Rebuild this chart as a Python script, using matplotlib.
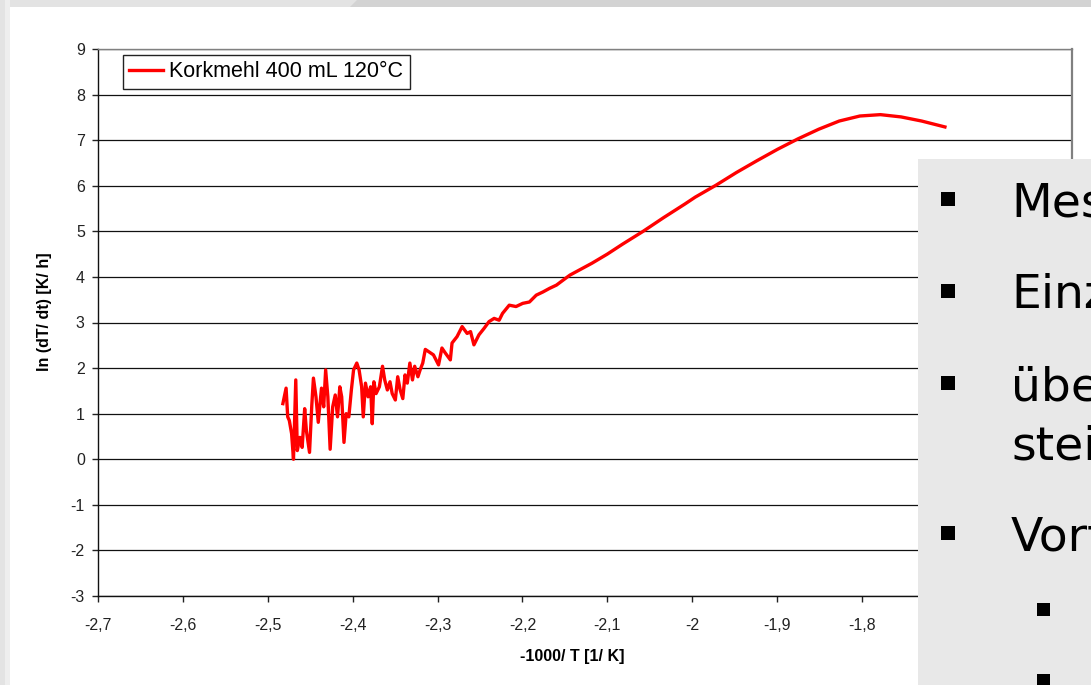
import matplotlib
matplotlib.use("Agg")
import matplotlib.pyplot as plt
import matplotlib.patches as mpatches
from matplotlib.ticker import FuncFormatter

W, H = 1091, 685

# measured curve: -1000/T [1/K] vs ln(dT/dt) [K/h]
x_noisy = [-2.4822, -2.4784, -2.4765, -2.4746, -2.4719, -2.4697, -2.4670, -2.4652,
           -2.4622, -2.4595, -2.4565, -2.4545, -2.4508, -2.4481, -2.4462, -2.4432,
           -2.4405, -2.4367, -2.4341, -2.4318, -2.4292, -2.4265, -2.4235, -2.4205,
           -2.4178, -2.4151, -2.4129, -2.4102, -2.4076, -2.4045, -2.4015, -2.3989,
           -2.3951, -2.3924, -2.3894, -2.3875, -2.3849, -2.3818, -2.3788, -2.3769,
           -2.3750, -2.3724, -2.3685, -2.3648, -2.3622, -2.3591, -2.3560, -2.3534,
           -2.3497, -2.3469, -2.3440, -2.3409, -2.3383, -2.3356, -2.3326, -2.3295,
           -2.3269, -2.3231, -2.3205, -2.3174, -2.3144]
y_noisy = [1.22, 1.56, 0.93, 0.85, 0.56, 0.00, 1.74, 0.19,
           0.48, 0.26, 1.11, 0.63, 0.15, 1.19, 1.78, 1.37,
           0.81, 1.56, 1.15, 1.96, 1.37, 0.22, 1.15, 1.41,
           0.93, 1.59, 1.37, 0.37, 1.00, 0.93, 1.52, 1.96,
           2.11, 1.96, 1.59, 0.93, 1.67, 1.37, 1.59, 0.78,
           1.70, 1.44, 1.59, 2.04, 1.74, 1.52, 1.70, 1.44,
           1.30, 1.81, 1.52, 1.33, 1.85, 1.67, 2.11, 1.74,
           2.04, 1.81, 1.96, 2.11, 2.41]

x_mid = [-2.3048, -2.2988, -2.2948, -2.2908, -2.2849, -2.2829, -2.2770, -2.2710,
         -2.2651, -2.2611, -2.2571, -2.2512, -2.2452, -2.2393, -2.2333, -2.2274,
         -2.2234, -2.2155, -2.2075, -2.1996, -2.1917, -2.1837, -2.1758, -2.1679,
         -2.1599, -2.1520, -2.1440, -2.1181, -2.1000, -2.0819, -2.0578, -2.0337,
         -2.0085]
y_mid = [2.29, 2.07, 2.44, 2.33, 2.18, 2.55, 2.69, 2.91,
         2.76, 2.80, 2.51, 2.73, 2.87, 3.02, 3.09, 3.05,
         3.20, 3.38, 3.35, 3.42, 3.45, 3.60, 3.67, 3.75,
         3.82, 3.93, 4.04, 4.30, 4.50, 4.72, 5.00, 5.30,
         5.60]

x_top = [-1.9964, -1.9721, -1.9479, -1.9236, -1.8994, -1.8752, -1.8509,
         -1.8267, -1.8024, -1.7782, -1.7539, -1.7297, -1.7022]
y_top = [5.75, 6.01, 6.29, 6.55, 6.80, 7.03, 7.24,
         7.42, 7.53, 7.56, 7.51, 7.42, 7.29]

series_label = "Korkmehl 400 mL 120°C"
x_ticks = [-2.7, -2.6, -2.5, -2.4, -2.3, -2.2, -2.1, -2.0, -1.9, -1.8]
y_ticks = list(range(-3, 10))

# slide text visible on the overlapping grey box
bullets = [("Mes", 199), ("Einz", 291), ("übe", 383), ("Vort", 533)]
extra_lines = [("steil", 442)]
sub_bullets = [609, 680]

xs = x_noisy + x_mid + x_top
ys = y_noisy + y_mid + y_top

plt.rcParams["font.family"] = ["Liberation Sans", "DejaVu Sans"]

fig = plt.figure(figsize=(W / 100, H / 100), dpi=100, facecolor="#e3e3e3")

# slide background: white card with grey frame strips
fig.patches.append(mpatches.Rectangle((5 / W, 0), 5 / W, 1, transform=fig.transFigure,
                                      facecolor="#eeeeee", edgecolor="none", zorder=-3))
fig.patches.append(mpatches.Rectangle((10 / W, 0), 1, 1 - 7 / H, transform=fig.transFigure,
                                      facecolor="white", edgecolor="none", zorder=-2))
fig.patches.append(mpatches.Polygon([(350 / W, 1 - 7 / H), (357 / W, 1), (1, 1), (1, 1 - 7 / H)],
                                    closed=True, transform=fig.transFigure,
                                    facecolor="#d3d3d3", edgecolor="none", zorder=-2))

ax = fig.add_axes([98 / W, (H - 596) / H, (1072 - 98) / W, (596 - 49) / H])
ax.set_zorder(1)
ax.set_facecolor("white")

ax.plot(xs, ys, color="#ff0000", linewidth=2.4, label=series_label,
        solid_joinstyle="round", zorder=3)

ax.set_xlim(-2.7, -1.5525)
ax.set_ylim(-3, 9)
ax.set_xticks(x_ticks)
ax.set_yticks(y_ticks)
comma = FuncFormatter(lambda v, p: f"{v:g}".replace(".", ","))
ax.xaxis.set_major_formatter(comma)
ax.yaxis.set_major_formatter(comma)
ax.tick_params(axis="both", direction="out", length=4.5, width=1, colors="#222222",
               labelsize=11.5, labelcolor="#222222")
ax.tick_params(axis="x", pad=11)
ax.tick_params(axis="y", pad=5)

ax.yaxis.grid(True, color="#111111", linewidth=0.9)
ax.set_axisbelow(True)
ax.spines["left"].set_color("#111111")
ax.spines["bottom"].set_color("#111111")
ax.spines["top"].set_color("#808080")
ax.spines["right"].set_color("#808080")
for s in ax.spines.values():
    s.set_linewidth(1.0)
ax.spines["right"].set_linewidth(1.6)

leg = ax.legend(loc="upper left", bbox_to_anchor=(25 / 974, 1 - 6 / 547),
                borderaxespad=0, fontsize=15.5, handlelength=1.55, handletextpad=0.3,
                borderpad=0.3, fancybox=False, framealpha=1, edgecolor="#222222")
leg.get_frame().set_linewidth(1.0)

fig.text(45 / W, 1 - 312 / H, "ln (dT/ dt) [K/ h]", rotation=90, ha="center", va="center",
         fontsize=11.5, fontweight="bold")
fig.text(572 / W, 1 - 657 / H, "-1000/ T [1/ K]", ha="center", va="center",
         fontsize=11.5, fontweight="bold")

# overlapping slide text box (drawn above the chart)
box_ax = fig.add_axes([918 / W, 0, 1 - 918 / W, 1 - 159 / H])
box_ax.set_zorder(5)
box_ax.set_facecolor("#e8e8e8")
box_ax.set_xlim(918, W)
box_ax.set_ylim(H, 159)
box_ax.axis("off")
box_ax.add_patch(mpatches.Rectangle((918, 159), W - 918, H - 159, facecolor="#e8e8e8",
                                    edgecolor="none", zorder=0))
for txt, yc in bullets:
    box_ax.add_patch(mpatches.Rectangle((941, yc - 7), 14, 14, facecolor="black",
                                        edgecolor="none", zorder=2))
    box_ax.text(1011, yc, txt, ha="left", va="center_baseline", fontsize=34,
                family="DejaVu Sans", zorder=3)
for txt, yc in extra_lines:
    box_ax.text(1011, yc, txt, ha="left", va="center_baseline", fontsize=34,
                family="DejaVu Sans", zorder=3)
for yc in sub_bullets:
    box_ax.add_patch(mpatches.Rectangle((1037, yc - 6), 13, 13, facecolor="black",
                                        edgecolor="none", zorder=2))

fig.savefig("out.png", dpi=100, facecolor=fig.get_facecolor())
